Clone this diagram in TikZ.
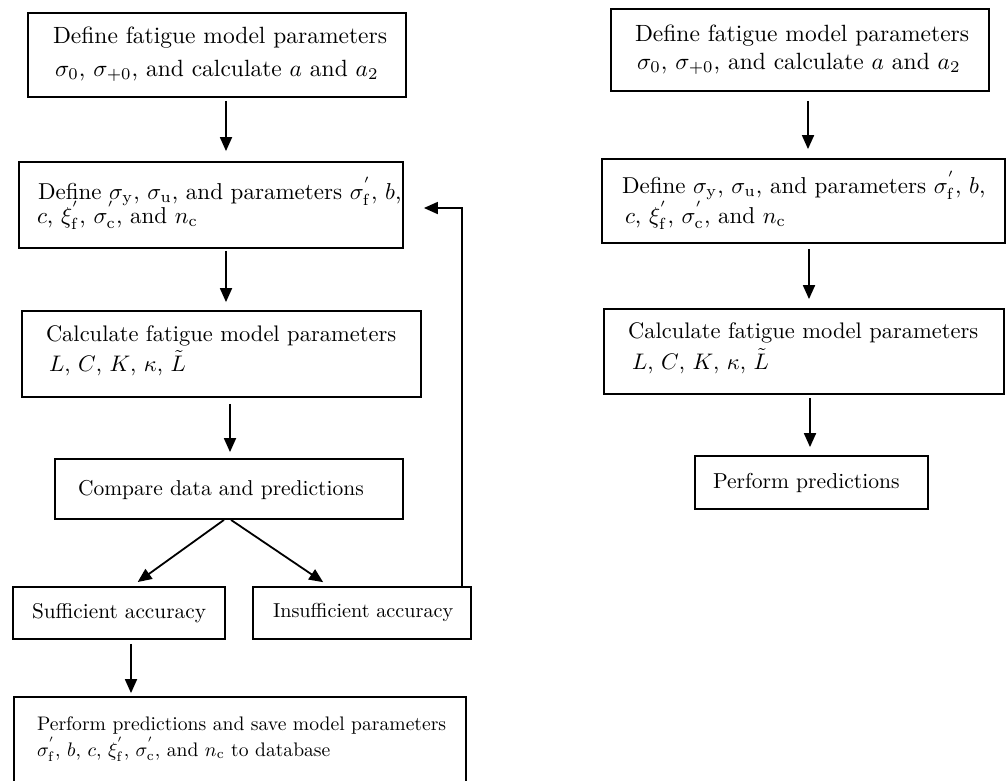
\documentclass[tikz,border=0pt]{standalone}
\usetikzlibrary{arrows.meta,calc}
\tikzset{
  box/.style={draw=black, line width=1.8pt, rectangle, inner sep=0pt},
  arr/.style={draw=black, line width=1.8pt, -{Triangle[length=14pt,width=12pt]}},
  txt/.style={anchor=base west, inner sep=0pt, outer sep=0pt, text=black},
}
\begin{document}
\begin{tikzpicture}[x=1pt,y=-1pt]
\useasboundingbox (0,0) rectangle (1008,780);
\clip (0,0) rectangle (1008,780);
% ---------- left column boxes ----------
\node[box, minimum width=378pt, minimum height=84pt] (b1) at (217,55) {};
\node[box, minimum width=384pt, minimum height=86pt] (b2) at (211,205) {};
\node[box, minimum width=399pt, minimum height=86pt] (b3) at (221.5,354) {};
\node[box, minimum width=348pt, minimum height=60pt] (b4) at (229,489) {};
\node[box, minimum width=212pt, minimum height=52pt] (b5) at (119,613) {};
\node[box, minimum width=218pt, minimum height=52pt] (b6) at (362,613) {};
\node[box, minimum width=452pt, minimum height=170pt] (b7) at (240,782) {};
% ---------- right column boxes ----------
\node[box, minimum width=378pt, minimum height=82pt] (r1) at (800,50) {};
\node[box, minimum width=403pt, minimum height=84pt] (r2) at (803.5,201) {};
\node[box, minimum width=400pt, minimum height=85pt] (r3) at (804,351.5) {};
\node[box, minimum width=233pt, minimum height=53pt] (r4) at (811.5,482.5) {};
% ---------- left texts ----------
\node[txt] (t1a) at (53,43) {\scalebox{2.35}{Define fatigue model parameters}};
\node[txt] (t1b) at (55,76) {\scalebox{2.35}{$\sigma_0$, $\sigma_{+0}$, and calculate $a$ and $a_2$}};
\node[txt] (t2a) at (38,199) {\scalebox{2.3}{Define $\sigma_{\mathrm{y}}$, $\sigma_{\mathrm{u}}$, and parameters $\sigma_{\mathrm{f}}^{'}$, $b$,}};
\node[txt] (t2b) at (37,223) {\scalebox{2.3}{$c$, $\xi_{\mathrm{f}}^{'}$, $\sigma_{\mathrm{c}}^{'}$, and $n_{\mathrm{c}}$}};
\node[txt] (t3a) at (46,341) {\scalebox{2.25}{Calculate fatigue model parameters}};
\node[txt] (t3b) at (49,371) {\scalebox{2.25}{$L$, $C$, $K$, $\kappa$, $\tilde{L}$}};
\node[txt] (t4) at (78,495) {\scalebox{2.15}{Compare data and predictions}};
\node[txt] (t5) at (32,618) {\scalebox{2.13}{Sufficient accuracy}};
\node[txt] (t6) at (273,617) {\scalebox{2.02}{Insufficient accuracy}};
\node[txt] (t7a) at (37,730) {\scalebox{1.96}{Perform predictions and save model parameters}};
\node[txt] (t7b) at (37,756) {\scalebox{1.96}{$\sigma_{\mathrm{f}}^{'}$, $b$, $c$, $\xi_{\mathrm{f}}^{'}$, $\sigma_{\mathrm{c}}^{'}$, and $n_{\mathrm{c}}$ to database}};
% ---------- right texts ----------
\node[txt] (s1a) at (635,41) {\scalebox{2.35}{Define fatigue model parameters}};
\node[txt] (s1b) at (637,69) {\scalebox{2.35}{$\sigma_0$, $\sigma_{+0}$, and calculate $a$ and $a_2$}};
\node[txt] (s2a) at (622,193) {\scalebox{2.3}{Define $\sigma_{\mathrm{y}}$, $\sigma_{\mathrm{u}}$, and parameters $\sigma_{\mathrm{f}}^{'}$, $b$,}};
\node[txt] (s2b) at (625,223) {\scalebox{2.3}{$c$, $\xi_{\mathrm{f}}^{'}$, $\sigma_{\mathrm{c}}^{'}$, and $n_{\mathrm{c}}$}};
\node[txt] (s3a) at (628,338) {\scalebox{2.25}{Calculate fatigue model parameters}};
\node[txt] (s3b) at (632,369) {\scalebox{2.25}{$L$, $C$, $K$, $\kappa$, $\tilde{L}$}};
\node[txt] (s4) at (713,488) {\scalebox{2.16}{Perform predictions}};
% ---------- column coordinates ----------
\coordinate (xa1) at (226,0);
\coordinate (xa3) at (230,0);
\coordinate (xd1s) at (224,0);
\coordinate (xd1e) at (132,0);
\coordinate (xd2s) at (231,0);
\coordinate (xd2e) at (329,0);
\coordinate (xa4) at (131,0);
\coordinate (fb) at (462,208);
\coordinate (xr1) at (808,0);
\coordinate (xr2) at (809,0);
\coordinate (xr3) at (810,0);
% ---------- left connectors ----------
\draw[arr, shorten <=3pt, shorten >=10pt] (b1.south -| xa1) -- (b2.north -| xa1);
\draw[arr, shorten <=2pt, shorten >=8pt] (b2.south -| xa1) -- (b3.north -| xa1);
\draw[arr, shorten <=6pt, shorten >=6pt] (b3.south -| xa3) -- (b4.north -| xa3);
\draw[arr, shorten >=7pt] (b4.south -| xd1s) -- (b5.north -| xd1e);
\draw[arr, shorten >=7pt] (b4.south -| xd2s) -- (b6.north -| xd2e);
\draw[arr, shorten <=4pt, shorten >=3pt] (b5.south -| xa4) -- (b7.north -| xa4);
\draw[arr, shorten >=20pt] (b6.north -| fb) -- (fb) -- (b2.east |- fb);
% ---------- right connectors ----------
\draw[arr, shorten <=9pt, shorten >=9pt] (r1.south -| xr1) -- (r2.north -| xr1);
\draw[arr, shorten <=5pt, shorten >=9pt] (r2.south -| xr2) -- (r3.north -| xr2);
\draw[arr, shorten <=3pt, shorten >=8pt] (r3.south -| xr3) -- (r4.north -| xr3);
\end{tikzpicture}
\end{document}
